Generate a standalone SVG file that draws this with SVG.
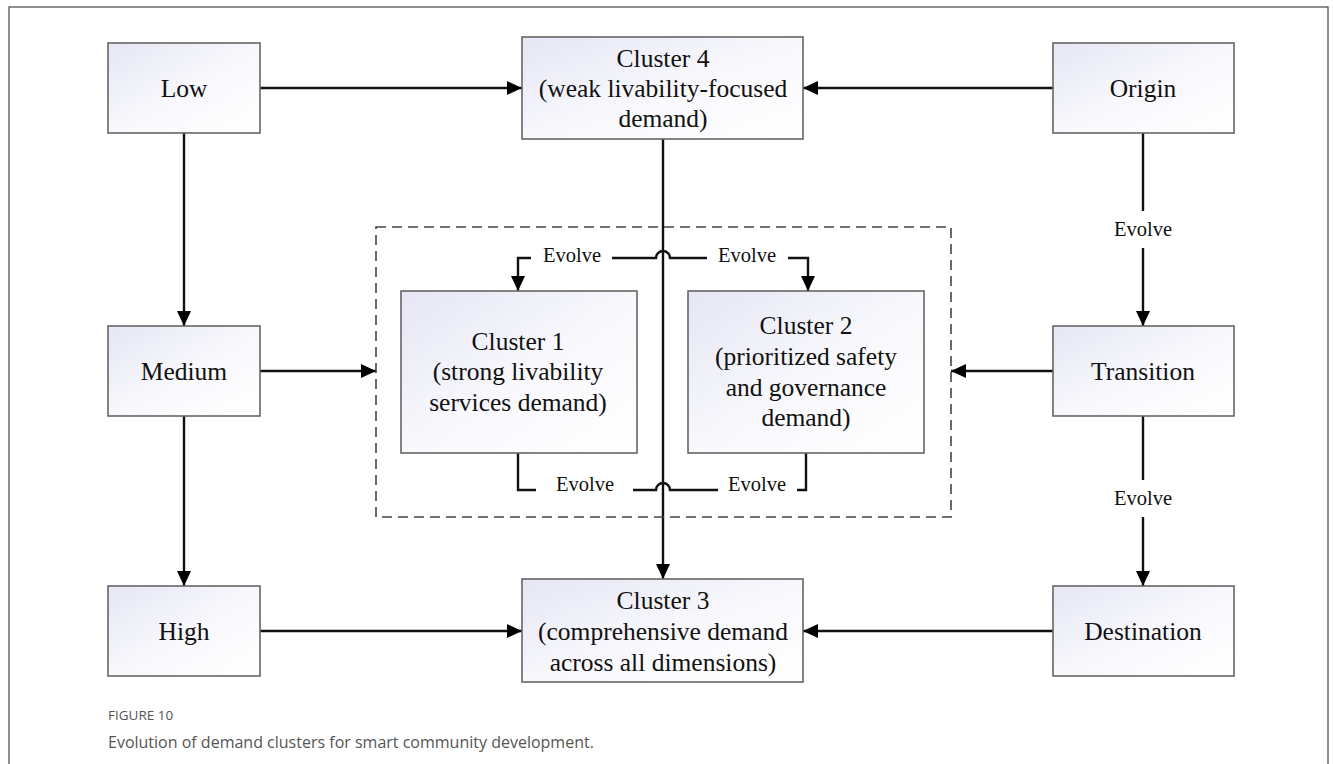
<svg xmlns="http://www.w3.org/2000/svg" width="1333" height="764" viewBox="0 0 1333 764">
<style>
.box{fill:url(#g);stroke:#666;stroke-width:1.6}
.t{font-family:"Liberation Serif","Times New Roman",serif;font-size:25.5px;fill:#111;text-anchor:middle}
.ev{font-family:"Liberation Serif","Times New Roman",serif;font-size:20.5px;fill:#111;text-anchor:middle}
.ln{fill:none;stroke:#111;stroke-width:2.4}
.dash{fill:none;stroke:#444;stroke-width:1.6;stroke-dasharray:10 6}
.cap1{font-family:"Open Sans","Noto Sans",sans-serif;font-size:13.5px;fill:#555}
.cap2{font-family:"Open Sans","Noto Sans",sans-serif;font-size:16px;fill:#555}
</style>
<defs>
<linearGradient id="g" x1="0" y1="0" x2="1" y2="1">
<stop offset="0" stop-color="#e6e6f5"/>
<stop offset="0.55" stop-color="#f9f9fd"/>
<stop offset="1" stop-color="#ffffff"/>
</linearGradient>
<marker id="a" viewBox="0 0 15 14" refX="15" refY="7" markerWidth="15" markerHeight="14" markerUnits="userSpaceOnUse" orient="auto">
<path d="M0,0 L15,7 L0,14 Z" fill="#000"/>
</marker>
</defs>
<rect x="9" y="7" width="1319" height="780" fill="#fff" stroke="#444" stroke-width="1.2"/>

<g id="connectors">
<line class="ln" x1="260" y1="88" x2="522" y2="88" marker-end="url(#a)"/>
<line class="ln" x1="1053" y1="88" x2="803" y2="88" marker-end="url(#a)"/>
<line class="ln" x1="184" y1="133" x2="184" y2="326" marker-end="url(#a)"/>
<line class="ln" x1="184" y1="416" x2="184" y2="586" marker-end="url(#a)"/>
<line class="ln" x1="260" y1="371" x2="376" y2="371" marker-end="url(#a)"/>
<line class="ln" x1="1053" y1="371" x2="951" y2="371" marker-end="url(#a)"/>
<line class="ln" x1="260" y1="631" x2="522" y2="631" marker-end="url(#a)"/>
<line class="ln" x1="1053" y1="631" x2="803" y2="631" marker-end="url(#a)"/>
<line class="ln" x1="663" y1="139" x2="663" y2="579" marker-end="url(#a)"/>
<line class="ln" x1="1143" y1="133" x2="1143" y2="211"/>
<line class="ln" x1="1143" y1="248" x2="1143" y2="326" marker-end="url(#a)"/>
<line class="ln" x1="1143" y1="416" x2="1143" y2="480"/>
<line class="ln" x1="1143" y1="517" x2="1143" y2="586" marker-end="url(#a)"/>
<path class="ln" d="M531,258 H518 V291" marker-end="url(#a)"/>
<path class="ln" d="M612,258 H656 A7,7 0 0 1 670,258 H707"/>
<path class="ln" d="M788,258 H808 V291" marker-end="url(#a)"/>
<path class="ln" d="M518,453 V490 H536"/>
<path class="ln" d="M633,490 H656 A7,7 0 0 1 670,490 H718"/>
<path class="ln" d="M797,490 H806 V453"/>
<text class="ev" x="572" y="262">Evolve</text>
<text class="ev" x="747" y="262">Evolve</text>
<text class="ev" x="585" y="491">Evolve</text>
<text class="ev" x="757" y="491">Evolve</text>
<text class="ev" x="1143" y="236">Evolve</text>
<text class="ev" x="1143" y="505">Evolve</text>
</g>

<rect class="dash" x="376" y="227" width="575" height="290"/>

<g id="low"><rect class="box" x="108" y="43" width="152" height="90"/><text class="t" x="184" y="97">Low</text></g>
<g id="medium"><rect class="box" x="108" y="326" width="152" height="90"/><text class="t" x="184" y="380">Medium</text></g>
<g id="high"><rect class="box" x="108" y="586" width="152" height="90"/><text class="t" x="184" y="640">High</text></g>
<g id="origin"><rect class="box" x="1053" y="43" width="181" height="90"/><text class="t" x="1143" y="97">Origin</text></g>
<g id="transition"><rect class="box" x="1053" y="326" width="181" height="90"/><text class="t" x="1143" y="380">Transition</text></g>
<g id="destination"><rect class="box" x="1053" y="586" width="181" height="90"/><text class="t" x="1143" y="640">Destination</text></g>
<g id="cluster4"><rect class="box" x="522" y="37" width="281" height="102"/>
<text class="t" x="663" y="67">Cluster 4</text><text class="t" x="663" y="97">(weak livability-focused</text><text class="t" x="663" y="127">demand)</text></g>
<g id="cluster3"><rect class="box" x="522" y="579" width="281" height="103"/>
<text class="t" x="663" y="609">Cluster 3</text><text class="t" x="663" y="640">(comprehensive demand</text><text class="t" x="663" y="671">across all dimensions)</text></g>
<g id="cluster1"><rect class="box" x="401" y="291" width="236" height="162"/>
<text class="t" x="518" y="350">Cluster 1</text><text class="t" x="518" y="380">(strong livability</text><text class="t" x="518" y="411">services demand)</text></g>
<g id="cluster2"><rect class="box" x="688" y="291" width="236" height="162"/>
<text class="t" x="806" y="334">Cluster 2</text><text class="t" x="806" y="365">(prioritized safety</text><text class="t" x="806" y="396">and governance</text><text class="t" x="806" y="426">demand)</text></g>

<text class="cap1" x="108" y="720">FIGURE 10</text>
<text class="cap2" x="108" y="748">Evolution of demand clusters for smart community development.</text>
</svg>
